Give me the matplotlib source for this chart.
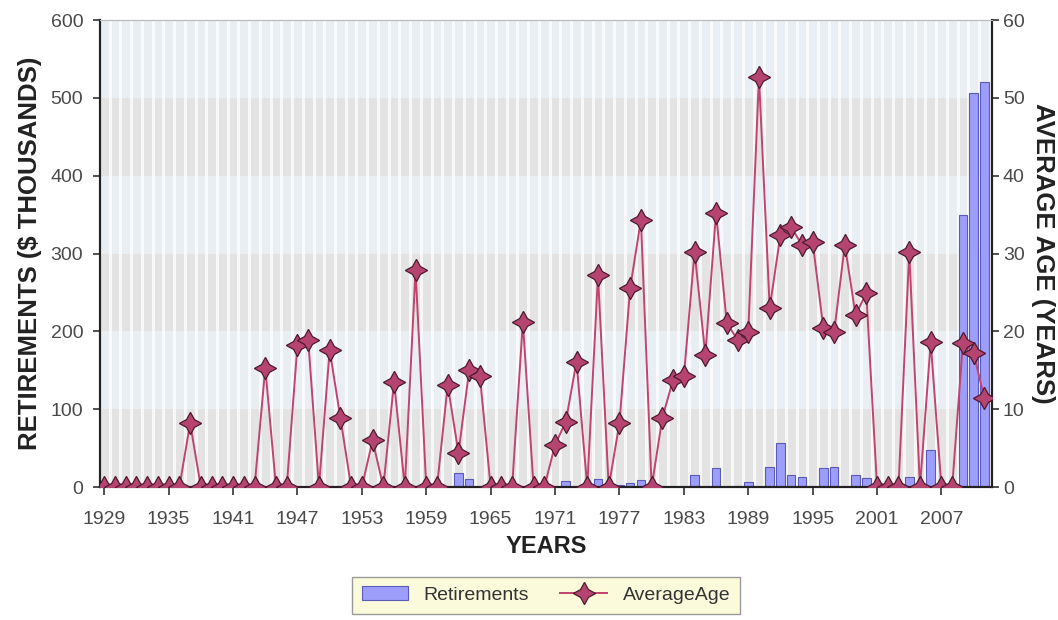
import matplotlib.pyplot as plt
import numpy as np

plt.rcParams['font.family'] = ['Liberation Sans', 'DejaVu Sans']

years = list(range(1929, 2012))

# retirements in $ thousands (left axis)
retirements = [
    0, 0, 0, 0, 0, 0, 0, 0, 0, 0,            # 1929-1938
    0, 0, 0, 0, 0, 0, 0, 0, 0, 0,            # 1939-1948
    0, 1, 1, 1, 1, 0, 0, 0, 0, 0,            # 1949-1958
    0, 0, 0, 18, 10, 0, 0, 0, 0, 0,          # 1959-1968
    0, 0, 0, 8, 0, 0, 10, 0, 2, 5,           # 1969-1978
    9, 0, 0, 0, 0, 15, 0, 24, 0, 1,          # 1979-1988
    6, 0, 26, 57, 15, 13, 0, 24, 26, 0,      # 1989-1998
    15, 12, 0, 0, 0, 13, 0, 47, 0, 0,        # 1999-2008
    350, 506, 521,                           # 2009-2011
]

# average age in years (right axis)
average_age = [
    0, 0, 0, 0, 0, 0, 0, 0, 8.2, 0,          # 1929-1938
    0, 0, 0, 0, 0, 15.3, 0, 0, 18.3, 18.9,   # 1939-1948
    0, 17.6, 8.9, 0, 0, 6.0, 0, 13.5, 0, 27.9,  # 1949-1958
    0, 0, 13.1, 4.4, 15.0, 14.2, 0, 0, 0, 21.2,  # 1959-1968
    0, 0, 5.4, 8.4, 16.1, 0, 27.2, 0, 8.2, 25.6,  # 1969-1978
    34.3, 0, 8.9, 13.8, 14.2, 30.2, 17.0, 35.2, 21.1, 18.9,  # 1979-1988
    19.9, 52.7, 23.0, 32.4, 33.4, 31.1, 31.5, 20.4, 19.9, 31.1,  # 1989-1998
    22.1, 24.9, 0, 0, 0, 30.2, 0, 18.6, 0, 0,  # 1999-2008
    18.5, 17.2, 11.4,                        # 2009-2011
]

tick_years = list(range(1929, 2008, 6))

x = np.arange(len(years))

fig = plt.figure(figsize=(10.58, 6.2), dpi=100)
fig.patch.set_facecolor('white')
ax = fig.add_axes([0.0945, 0.2145, 0.843, 0.7532])
ax2 = ax.twinx()

ax.set_xlim(-0.4, len(years) - 0.3)
ax.set_ylim(0, 600)
ax2.set_ylim(0, 60)

# background bands + per-year vertical stripes
ax.set_facecolor('#e9eef2')
for lo in (0, 200, 400):
    ax.axhspan(lo, lo + 100, color='#e3e3e3', zorder=0, lw=0)
for xi in x:
    ax.axvline(xi + 0.5, color='white', lw=2.2, alpha=0.75, zorder=0.5)

ax.bar(x, retirements, width=0.8, color='#9d9dfa', edgecolor='#5a5ab8',
       linewidth=0.8, zorder=2, label='Retirements')

ax2.plot(x, average_age, color='#c2436f', lw=1.4, marker=(4, 1, 0),
         markersize=16, markerfacecolor='#b54570', markeredgecolor='#4d1a2f',
         markeredgewidth=0.9, zorder=3, label='AverageAge')

ax.set_xticks([years.index(y) for y in tick_years])
ax.set_xticklabels([str(y) for y in tick_years])
ax.set_yticks(range(0, 601, 100))
ax2.set_yticks(range(0, 61, 10))

for a in (ax, ax2):
    a.tick_params(labelsize=14, colors='#333333', labelcolor='#4a4a4a',
                  length=5, width=1.2, pad=3)
    for s in ('left', 'right', 'bottom'):
        a.spines[s].set_color('#222222')
        a.spines[s].set_linewidth(1.5)
    a.spines['top'].set_color('#bbbbbb')
ax.tick_params(axis='x', length=6, pad=11)
ax.tick_params(axis='y', pad=7)

ax.set_xlabel('YEARS', fontsize=17, fontweight='bold', color='#222222', labelpad=5)
ax.set_ylabel('RETIREMENTS ($ THOUSANDS)', fontsize=18.5, fontweight='bold',
              color='#222222', labelpad=6)
ax2.set_ylabel('AVERAGE AGE (YEARS)', fontsize=18.5, fontweight='bold',
               color='#222222', rotation=270, labelpad=22)

h1, l1 = ax.get_legend_handles_labels()
h2, l2 = ax2.get_legend_handles_labels()
leg = fig.legend(h1 + h2, l1 + l2, loc='center', bbox_to_anchor=(0.516, 0.04),
                 ncol=2, fontsize=14, frameon=True, fancybox=False,
                 facecolor='#fbfbdc', edgecolor='#999999', framealpha=1,
                 handlelength=2.4, columnspacing=1.6, borderpad=0.5)
for t in leg.get_texts():
    t.set_color('#333333')

fig.savefig('out.png', dpi=100, facecolor='white')
